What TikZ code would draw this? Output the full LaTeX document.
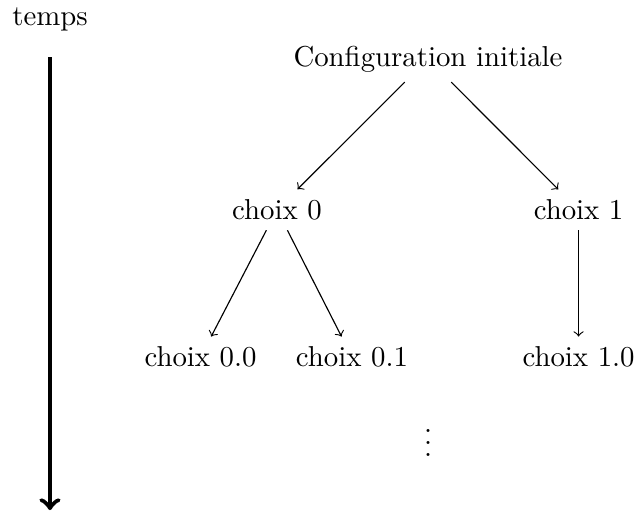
\documentclass[tikz,border=0pt]{standalone}
\usepackage{amsmath}
\usepackage{tikz}
\usetikzlibrary{positioning}

\begin{document}
\begin{tikzpicture}[
    etat/.style={inner sep=.3333em},
    edge/.style={->},
    fleche/.style={->, ultra thick}
    ]
    \useasboundingbox (0,0) rectangle (7.773,-6.272);

    % noeuds
    \node (temps) at (0.610,-0.243) {temps};
    \node[etat] (init) at (5.223,-0.718) {Configuration initiale};
    \node[etat] (c0) at (3.380,-2.560) {choix 0};
    \node[etat] (c1) at (7.060,-2.560) {choix 1};
    \node[etat] (c00) at (2.447,-4.357) {choix 0.0};
    \node[etat] (c01) at (4.295,-4.357) {choix 0.1};
    \node[etat] (c10) at (7.060,-4.357) {choix 1.0};
    \node (suite) at (5.223,-5.300) {$\vdots$};

    \coordinate (debut) at (0.610,-0.696);
    \coordinate (fin) at (0.610,-6.225);
    \draw[fleche] (debut) -- (fin);

    \draw[edge] (init) -- (c0);
    \draw[edge] (init) -- (c1);
    \draw[edge] (c0) -- (c00);
    \draw[edge] (c0) -- (c01);
    \draw[edge] (c1) -- (c10);
\end{tikzpicture}
\end{document}
